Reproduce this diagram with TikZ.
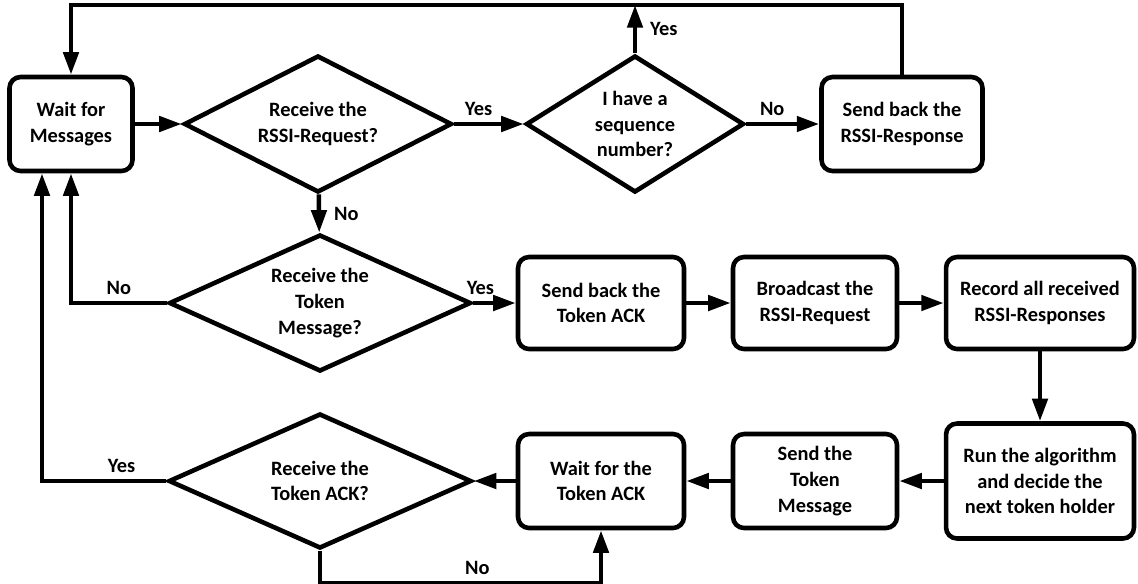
\documentclass[tikz,border=0pt]{standalone}
\usepackage{fontspec}
\setmainfont{Carlito}
\usetikzlibrary{shapes,arrows.meta,positioning}

\begin{document}
\begin{tikzpicture}[
    x=0.02cm, y=-0.02cm,
    font=\bfseries\fontsize{11.6}{14.6}\selectfont,
    process/.style={rectangle, rounded corners=0.22cm, draw=black, line width=2.6pt, align=center, minimum height=1.88cm, inner sep=2pt},
    decision/.style={diamond, aspect=2, draw=black, line width=2.6pt, align=center, inner sep=0pt, minimum height=2.74cm},
    arrow/.style={line width=2.6pt, -{Triangle[length=0.45cm, width=0.3cm]}},
    line/.style={line width=2.6pt}
]
\useasboundingbox (0,0) rectangle (1138,583);

% Idle state and RSSI request check
\node[process, minimum width=2.46cm] (wait) at (71,124) {Wait for\\Messages};
\node[decision, minimum width=5.36cm] (rssireq) at (318,124) {Receive the\\RSSI-Request?};
\node[decision, aspect=1.6, minimum width=4.36cm] (seqnum) at (635,124) {I have a\\sequence\\number?};
\node[process, minimum width=3.22cm] (rssiresp) at (902,124) {Send back the\\RSSI-Response};
\coordinate (toprail) at (500,5);

% Token message branch
\node[decision, minimum width=6.04cm] (tokenmsg) at (320,303) {Receive the\\Token\\Message?};
\node[process, minimum width=3.32cm, minimum height=1.84cm] (sendack) at (601,303) {Send back the\\Token ACK};
\node[process, minimum width=3.28cm, minimum height=1.84cm] (bcast) at (815,303) {Broadcast the\\RSSI-Request};
\node[process, minimum width=3.76cm, minimum height=1.84cm] (record) at (1040,303) {Record all received\\RSSI-Responses};

% Passing the token on
\node[process, minimum width=3.76cm, minimum height=2.3cm] (run) at (1040,481) {Run the algorithm\\and decide the\\next token holder};
\node[process, minimum width=3.28cm] (sendtok) at (815,481) {Send the\\Token\\Message};
\node[process, minimum width=3.32cm] (waitack) at (601,481) {Wait for the\\Token ACK};
\node[decision, minimum width=6.06cm, minimum height=2.7cm] (ackdec) at (320,481) {Receive the\\Token ACK?};

% Connections
\draw[arrow] (wait) -- (rssireq);
\draw[arrow] (rssireq) -- (seqnum) node[midway, above, xshift=-6pt] {Yes};
\draw[arrow] (seqnum) -- (rssiresp) node[midway, above, xshift=-6pt] {No};
\draw[arrow] (seqnum.north) -- (seqnum.north |- toprail) node[midway, right, xshift=4pt] {Yes};
\draw[arrow] (rssiresp.north) |- (toprail) -| (wait.north);
\draw[arrow] (rssireq) -- (tokenmsg) node[midway, right, xshift=4pt] {No};
\draw[arrow] (tokenmsg.west) -| node[pos=0.25, above] {No} (wait.south);
\draw[arrow] (tokenmsg) -- (sendack) node[midway, above, xshift=-8pt] {Yes};
\draw[arrow] (sendack) -- (bcast);
\draw[arrow] (bcast) -- (record);
\draw[arrow] (record) -- (run);
\draw[arrow] (run) -- (sendtok);
\draw[arrow] (sendtok) -- (waitack);
\draw[arrow] (waitack) -- (ackdec);
\draw[arrow] (ackdec.west) -| node[pos=0.18, above] {Yes} ([xshift=-0.58cm]wait.south);
\draw[arrow] (ackdec.south) -- ++(0,32) -| node[pos=0.28, above] {No} (waitack.south);

\end{tikzpicture}
\end{document}
